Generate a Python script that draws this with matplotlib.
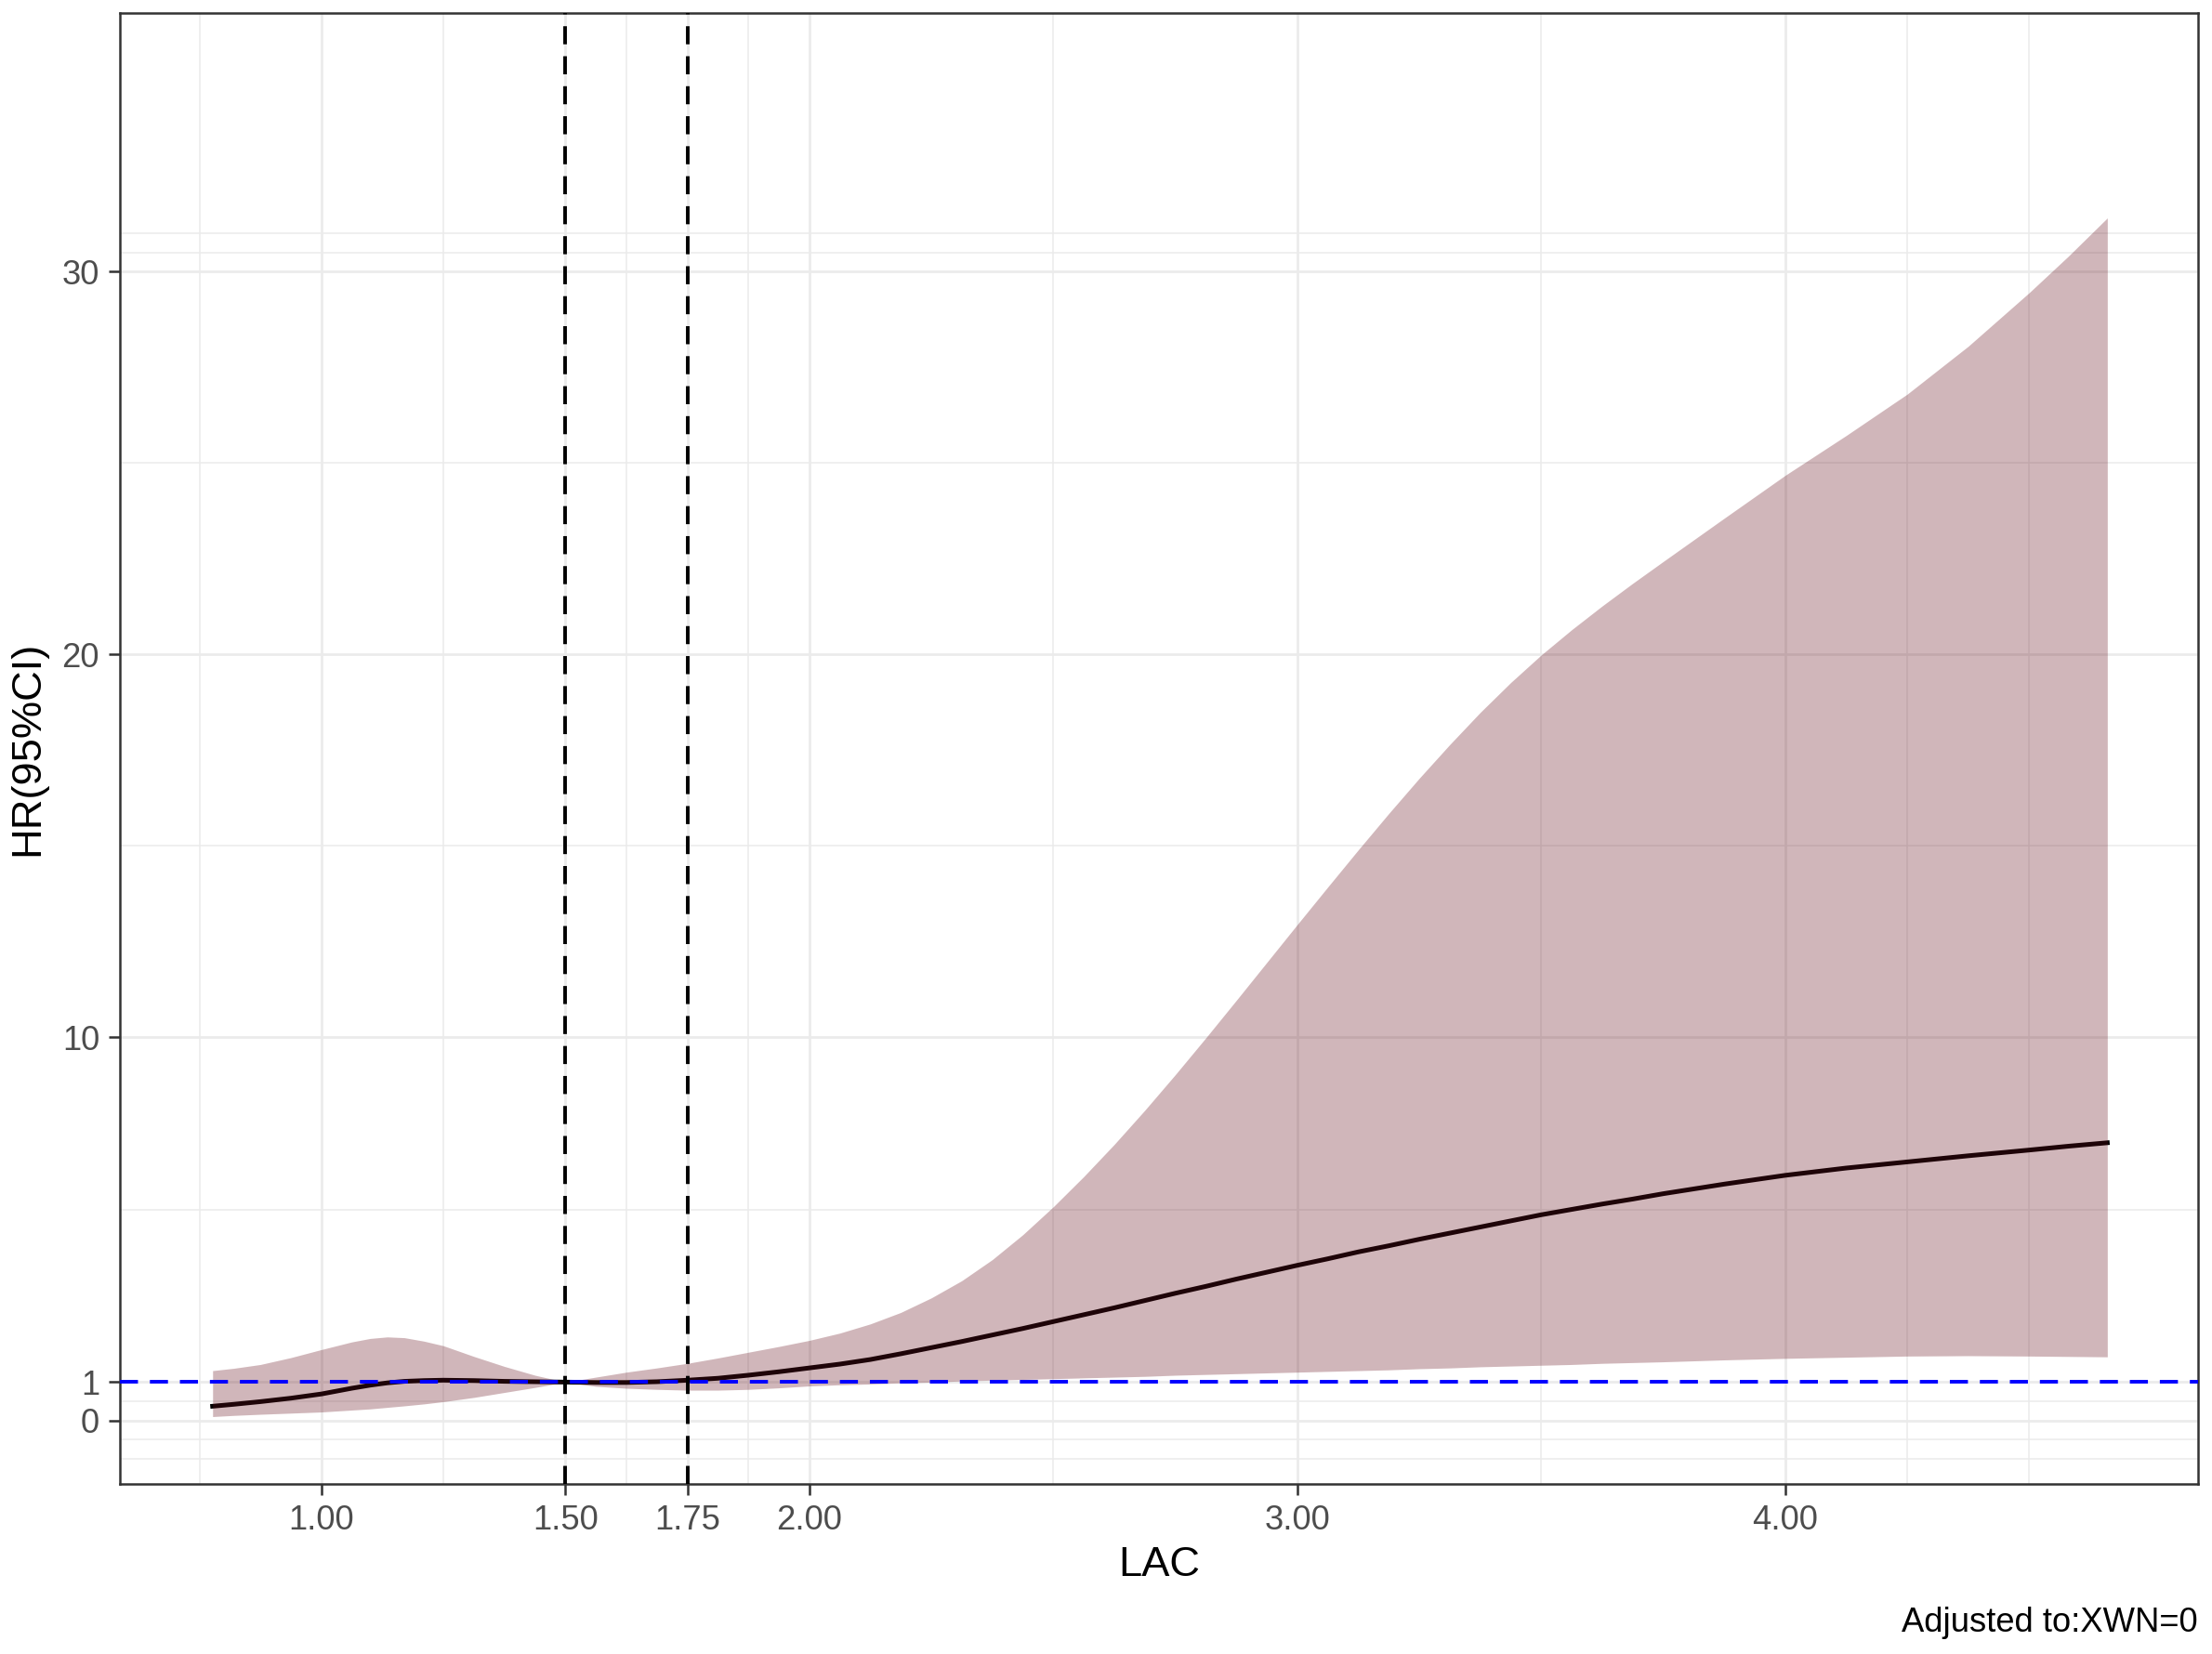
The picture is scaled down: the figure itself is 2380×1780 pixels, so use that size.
import matplotlib
matplotlib.use("Agg")
import matplotlib.pyplot as plt
from matplotlib.ticker import FixedLocator

plt.rcParams['font.family'] = ['Liberation Sans', 'DejaVu Sans']

# values
lac = [0.777, 0.82, 0.875, 0.9375, 1.0, 1.0625, 1.1, 1.135, 1.17, 1.21,
       1.25, 1.3125, 1.375, 1.4375, 1.5, 1.5625, 1.625, 1.6875, 1.75, 1.8125,
       1.875, 1.9375, 2.0, 2.0625, 2.125, 2.1875, 2.25, 2.3125, 2.375, 2.4375,
       2.5, 2.5625, 2.625, 2.6875, 2.75, 2.8125, 2.875, 2.9375, 3.0, 3.0625,
       3.125, 3.1875, 3.25, 3.3125, 3.375, 3.4375, 3.5, 3.5625, 3.625, 3.6875,
       3.75, 3.875, 4.0, 4.125, 4.25, 4.375, 4.5, 4.58, 4.66]
hr = [0.37, 0.42, 0.49, 0.58, 0.69, 0.84, 0.92, 0.98, 1.02, 1.04,
      1.05, 1.04, 1.02, 1.01, 1.00, 0.99, 0.99, 1.01, 1.05, 1.10,
      1.18, 1.27, 1.37, 1.47, 1.59, 1.74, 1.90, 2.06, 2.23, 2.40,
      2.58, 2.76, 2.94, 3.13, 3.32, 3.50, 3.69, 3.87, 4.05, 4.22,
      4.40, 4.56, 4.73, 4.89, 5.05, 5.21, 5.37, 5.51, 5.65, 5.78,
      5.92, 6.17, 6.40, 6.59, 6.75, 6.91, 7.06, 7.16, 7.25]
hr_upper = [1.30, 1.36, 1.46, 1.64, 1.85, 2.05, 2.14, 2.18, 2.16, 2.07,
            1.95, 1.67, 1.41, 1.18, 1.00, 1.13, 1.26, 1.37, 1.49, 1.63,
            1.78, 1.93, 2.09, 2.28, 2.52, 2.82, 3.20, 3.65, 4.20, 4.85,
            5.58, 6.37, 7.21, 8.10, 9.03, 9.99, 10.97, 11.96, 12.95, 13.93,
            14.90, 15.85, 16.77, 17.65, 18.49, 19.27, 19.99, 20.65, 21.27, 21.86,
            22.43, 23.56, 24.68, 25.72, 26.8, 28.05, 29.45, 30.4, 31.4]
hr_lower = [0.10, 0.13, 0.16, 0.19, 0.22, 0.27, 0.30, 0.34, 0.38, 0.43,
            0.49, 0.60, 0.73, 0.86, 1.00, 0.89, 0.84, 0.81, 0.79, 0.79,
            0.81, 0.85, 0.90, 0.93, 0.95, 0.98, 1.00, 1.03, 1.05, 1.07,
            1.09, 1.11, 1.13, 1.15, 1.18, 1.20, 1.22, 1.24, 1.26, 1.28,
            1.30, 1.32, 1.35, 1.37, 1.40, 1.42, 1.44, 1.46, 1.49, 1.51,
            1.53, 1.58, 1.62, 1.65, 1.68, 1.69, 1.68, 1.67, 1.66]

cutoffs = [1.5, 1.75]
x_breaks = [1.0, 1.5, 1.75, 2.0, 3.0, 4.0]
x_labels = ['1.00', '1.50', '1.75', '2.00', '3.00', '4.00']
x_minor = [0.5, 0.75, 1.25, 1.625, 1.875, 2.5, 3.5, 4.25, 4.5]
y_breaks = [0, 1, 10, 20, 30]
y_minor = [-1, -0.5, 0.5, 5.5, 15, 25, 30.5, 31]

grey20 = '#333333'
grid_col = '#EBEBEB'

fig = plt.figure(figsize=(11.9, 8.9), dpi=200)
ax = fig.add_axes([0.0542, 0.1028, 0.9395, 0.8893])

ax.plot(lac, hr, color='black', lw=1.8, zorder=2)
ax.fill_between(lac, hr_lower, hr_upper, color='#66101c', alpha=0.3,
                lw=0, zorder=3)
ax.axhline(1, color='#0000FF', lw=1.4, dashes=(5, 3.3), zorder=4)
for c in cutoffs:
    ax.axvline(c, color='black', lw=1.4, dashes=(5, 3.3), zorder=4)

ax.set_xlim(0.587, 4.846)
ax.set_ylim(-1.66, 36.75)

ax.xaxis.set_major_locator(FixedLocator(x_breaks))
ax.set_xticklabels(x_labels)
ax.xaxis.set_minor_locator(FixedLocator(x_minor))
ax.yaxis.set_major_locator(FixedLocator(y_breaks))
ax.yaxis.set_minor_locator(FixedLocator(y_minor))

ax.grid(which='major', color=grid_col, lw=1.0)
ax.grid(which='minor', color=grid_col, lw=0.55)
ax.set_axisbelow(True)

ax.tick_params(which='major', length=4.3, width=0.9, color=grey20,
               labelsize=13.1, labelcolor='#4D4D4D', pad=3.6)
ax.tick_params(which='minor', length=0)
for s in ax.spines.values():
    s.set_color(grey20)
    s.set_linewidth(0.9)

fig.text(0.524, 1 - 1685 / 1780, 'LAC', ha='center', va='center',
         fontsize=16.3, color='black')
fig.text(30 / 2380, 1 - 805 / 1780, 'HR(95%CI)', ha='center', va='center',
         rotation=90, fontsize=16.3, color='black')
fig.text(2365 / 2380, 1 - 1746 / 1780, 'Adjusted to:XWN=0', ha='right',
         va='center', fontsize=13.1, color='black')

fig.savefig('out.png', dpi=200)
